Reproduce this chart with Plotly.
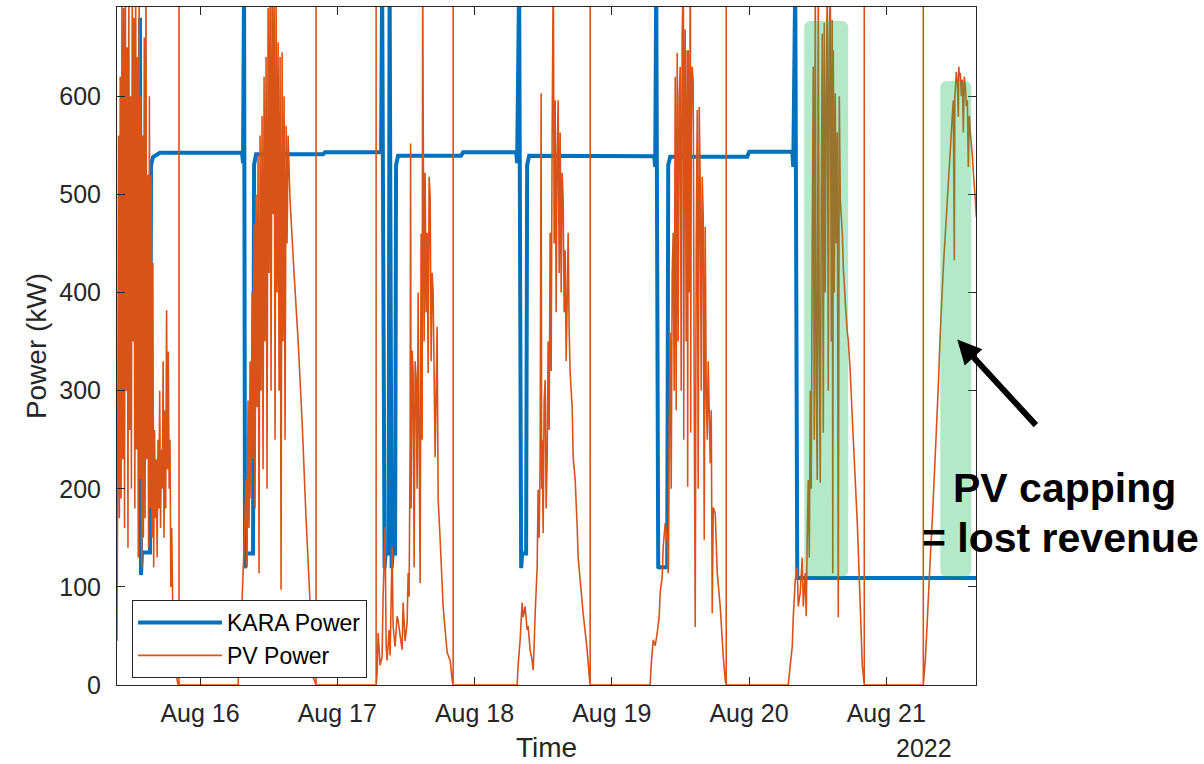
import pandas as pd
import plotly.graph_objects as go

BASE = pd.Timestamp("2022-08-15 00:00")

# ---------------- data: (hours since 2022-08-15 00:00, kW) ----------------
kara_power = [
    (13.50, 680), (13.68, 112), (13.85, 135), (15.25, 135), (15.43, 530), (15.78, 538), (17.00, 542.5),
    (31.35, 542.5), (31.52, 532), (31.70, 720), (31.87, 119), (32.05, 134), (33.27, 134), (33.45, 530), (33.80, 541),
    (45.52, 541), (45.87, 543),
    (55.66, 543), (55.84, 720), (56.27, 119), (56.45, 134), (56.97, 134), (57.15, 720), (57.50, 119), (57.67, 134),
    (58.11, 134), (58.28, 530), (58.63, 539.5),
    (69.65, 539.5), (70.00, 543),
    (79.28, 543), (79.45, 532), (79.80, 720), (80.15, 119), (80.32, 134), (81.02, 134), (81.20, 530), (81.55, 539.5),
    (103.42, 539), (103.59, 528), (103.77, 720), (104.12, 119), (104.29, 120), (105.69, 120), (105.87, 530), (106.22, 538.5),
    (119.68, 538.5), (120.03, 543.5),
    (127.55, 543.5), (127.73, 528), (128.08, 720), (128.43, 109), (159.68, 109),
]

pv_aug15 = [
    (9.48, 45), (9.60, 210), (9.75, 560), (9.90, 170), (10.05, 620), (10.20, 190), (10.35, 700), (10.50, 230),
    (10.65, 690), (10.80, 160), (10.95, 720), (11.10, 300), (11.25, 650), (11.40, 140), (11.55, 720), (11.70, 260),
    (11.85, 600), (12.00, 200), (12.15, 720), (12.30, 350), (12.45, 680), (12.60, 180), (12.75, 720), (12.90, 240),
    (13.05, 640), (13.20, 130), (13.35, 700), (13.50, 210), (13.65, 600), (13.80, 120), (13.95, 560), (14.10, 150),
    (14.25, 660), (14.40, 170), (14.55, 720), (14.70, 230), (14.85, 520), (15.00, 140), (15.15, 600), (15.30, 180),
    (15.45, 520), (15.60, 150), (15.75, 430), (15.90, 120), (16.05, 260), (16.20, 170), (16.35, 230), (16.50, 130),
    (16.65, 250), (16.80, 180), (16.95, 300), (17.10, 160), (17.25, 240), (17.40, 200), (17.55, 330), (17.70, 150),
    (17.85, 280), (18.00, 180), (18.15, 382), (18.30, 220), (18.45, 340), (18.60, 200), (18.75, 250), (18.90, 100),
    (19.05, 160), (19.20, 90), (19.40, 60), (19.60, 35), (19.80, 15), (20.00, 5), (20.20, 0),
    (20.33, 0), (20.33, 1000), (20.33, 0),
]

pv_aug16 = [
    (30.65, 0), (31.17, 60), (31.70, 140), (32.05, 210), (32.22, 120), (32.40, 290), (32.57, 160), (32.75, 330),
    (32.92, 190), (33.10, 400), (33.27, 230), (33.45, 470), (33.62, 180), (33.80, 500), (33.97, 283), (34.15, 540),
    (34.32, 114), (34.50, 560), (34.67, 300), (34.85, 580), (35.02, 220), (35.20, 620), (35.37, 350), (35.55, 640),
    (35.72, 200), (35.90, 690), (36.07, 420), (36.25, 720), (36.42, 300), (36.60, 720), (36.77, 480), (36.95, 720),
    (37.12, 250), (37.30, 700), (37.47, 400), (37.65, 655), (37.82, 300), (38.00, 640), (38.17, 97), (38.35, 645),
    (38.52, 350), (38.70, 600), (38.87, 250), (39.05, 570), (39.22, 450), (39.40, 560), (39.74, 494), (40.44, 420),
    (41.14, 352), (41.84, 270), (42.54, 170), (43.24, 84), (43.77, 8), (44.29, 0),
    (44.29, 1000), (44.29, 0),
]

pv_aug17 = [
    (54.79, 0), (54.79, 1000), (54.79, 0),
    (54.97, 12), (55.14, 53), (55.49, 20), (55.84, 29), (56.01, 90), (56.36, 161), (56.54, 40), (56.71, 25),
    (57.06, 56), (57.24, 30), (57.59, 141), (57.76, 60), (58.11, 39), (58.46, 70), (58.64, 66), (58.99, 50),
    (59.34, 36), (59.51, 84), (59.86, 45), (60.21, 63), (60.39, 114), (60.56, 90), (60.74, 250), (60.82, 552),
    (60.91, 180), (61.09, 341), (61.26, 318), (61.44, 120), (61.61, 330), (61.79, 311), (61.96, 200), (62.14, 400),
    (62.31, 250), (62.49, 104), (62.66, 460), (62.84, 250), (62.93, 720), (62.97, 680), (63.01, 596), (63.19, 350),
    (63.36, 522), (63.54, 380), (63.71, 461), (63.89, 318), (64.06, 518), (64.24, 497), (64.41, 330), (64.59, 420),
    (64.76, 400), (65.11, 232), (65.46, 365), (65.64, 189), (65.99, 148), (66.51, 80), (67.21, 33), (67.74, 25),
    (68.09, 5), (68.26, 0), (68.26, 1000), (68.26, 0),
]

pv_aug18 = [
    (79.45, 0), (79.62, 20), (79.97, 46), (80.32, 84), (80.50, 69), (80.85, 80), (81.20, 56), (81.37, 60),
    (81.72, 36), (82.07, 25), (82.25, 15), (82.42, 40), (82.60, 73), (82.95, 120), (83.12, 199), (83.30, 150),
    (83.47, 230), (83.65, 603), (83.74, 200), (83.82, 250), (84.00, 155), (84.17, 290), (84.35, 311), (84.52, 180),
    (84.70, 232), (84.87, 350), (85.05, 260), (85.22, 461), (85.40, 320), (85.57, 560), (85.75, 720), (85.80, 690),
    (85.92, 450), (86.10, 596), (86.27, 380), (86.45, 540), (86.62, 596), (86.80, 420), (86.97, 563), (87.15, 400),
    (87.32, 522), (87.50, 494), (87.67, 380), (87.85, 443), (88.02, 330), (88.20, 392), (88.37, 461), (88.55, 359),
    (88.72, 318), (89.07, 283), (89.25, 232), (89.60, 209), (89.95, 161), (90.12, 130), (90.47, 107), (90.99, 73),
    (91.69, 36), (92.04, 10), (92.22, 0), (92.22, 1000), (92.22, 0),
]

pv_aug19 = [
    (102.71, 0), (102.89, 20), (103.24, 46), (103.59, 40), (103.94, 53), (104.29, 70), (104.46, 94), (104.81, 110),
    (104.99, 141), (105.34, 165), (105.69, 148), (105.86, 114), (106.04, 260), (106.21, 359), (106.39, 200),
    (106.56, 420), (106.74, 461), (106.91, 300), (107.09, 620), (107.26, 280), (107.44, 644), (107.61, 350),
    (107.79, 600), (107.96, 630), (108.14, 300), (108.31, 664), (108.49, 720), (108.53, 690), (108.58, 250),
    (108.66, 500), (108.84, 668), (109.01, 350), (109.19, 647), (109.27, 202), (109.36, 647), (109.54, 400),
    (109.71, 720), (109.75, 700), (109.80, 257), (109.89, 560), (110.06, 630), (110.24, 614), (110.41, 300),
    (110.59, 59), (110.76, 450), (110.94, 586), (111.11, 200), (111.29, 589), (111.46, 512), (111.64, 300),
    (111.81, 518), (111.99, 477), (112.16, 148), (112.34, 467), (112.51, 300), (112.69, 250), (112.86, 330),
    (113.21, 226), (113.39, 280), (113.56, 73), (113.74, 181), (114.09, 175), (114.44, 114), (114.96, 80),
    (115.49, 29), (115.84, 5), (116.01, 0), (116.01, 1000), (116.01, 0),
]

pv_aug20 = [
    (126.85, 0), (127.20, 20), (127.55, 39), (127.73, 69), (128.08, 107), (128.43, 120), (128.60, 80), (128.95, 94),
    (129.30, 130), (129.48, 80), (129.83, 114), (130.00, 70), (130.18, 155), (130.35, 209), (130.53, 130),
    (130.70, 300), (130.88, 200), (131.05, 450), (131.23, 630), (131.40, 250), (131.58, 720), (131.75, 300),
    (131.93, 209), (132.10, 720), (132.28, 350), (132.45, 206), (132.63, 500), (132.80, 664), (132.98, 257),
    (133.15, 675), (133.33, 400), (133.50, 600), (133.68, 720), (133.85, 300), (134.03, 650), (134.20, 720),
    (134.38, 350), (134.55, 678), (134.64, 114), (134.73, 647), (134.90, 400), (135.08, 603), (135.25, 450),
    (135.43, 563), (135.60, 69), (135.78, 600), (135.95, 494), (136.30, 461), (136.48, 426), (136.83, 390),
    (137.18, 359), (137.35, 352), (137.70, 318), (138.23, 250), (138.93, 165), (139.45, 80), (139.80, 20),
    (140.15, 0), (140.15, 1000), (140.15, 0),
]

pv_aug21 = [
    (150.47, 0), (150.47, 1000), (150.47, 0),
    (150.82, 25), (151.17, 66), (151.69, 130), (152.04, 168), (152.57, 236), (153.09, 304), (153.44, 359),
    (153.97, 426), (154.67, 494), (155.19, 545), (155.54, 580), (155.72, 596), (155.89, 433), (155.98, 600),
    (156.07, 607), (156.24, 625), (156.42, 614), (156.59, 579), (156.68, 630), (156.77, 620), (156.94, 624),
    (157.12, 600), (157.29, 617), (157.47, 563), (157.64, 620), (157.82, 610), (157.99, 590), (158.17, 596),
    (158.34, 528), (158.52, 580), (158.69, 563), (159.04, 540), (159.22, 522), (159.57, 494), (159.74, 477),
]

x_tick_dates = ["2022-08-16", "2022-08-17", "2022-08-18", "2022-08-19", "2022-08-20", "2022-08-21"]
x_tick_labels = ["Aug 16", "Aug 17", "Aug 18", "Aug 19", "Aug 20", "Aug 21"]
y_tick_values = [0, 100, 200, 300, 400, 500, 600]

# ---------------- build ----------------
def split(series):
    t = [BASE + pd.Timedelta(hours=h) for h, _ in series]
    v = [kw for _, kw in series]
    return t, v

pv_all = pv_aug15 + pv_aug16 + pv_aug17 + pv_aug18 + pv_aug19 + pv_aug20 + pv_aug21
kara_t, kara_v = split(kara_power)
pv_t, pv_v = split(pv_all)

FONT = "Liberation Sans, Arial, Helvetica, sans-serif"
AXC = "#262626"

fig = go.Figure()
fig.add_trace(go.Scatter(x=kara_t, y=kara_v, mode="lines", name="KARA Power",
                         line=dict(color="#0072BD", width=4, simplify=False)))
fig.add_trace(go.Scatter(x=pv_t, y=pv_v, mode="lines", name="PV Power",
                         line=dict(color="#D95319", width=1.6, simplify=False)))

# plot-area geometry (pixels)
L, T, W, H = 117, 7, 858.7, 678


def X(px):
    return (px - L) / W


def Y(py):
    return (T + H - py) / H


def rounded_rect(x0, y0, x1, y1, r):
    return (f"M {X(x0 + r)},{Y(y0)} L {X(x1 - r)},{Y(y0)} Q {X(x1)},{Y(y0)} {X(x1)},{Y(y0 + r)} "
            f"L {X(x1)},{Y(y1 - r)} Q {X(x1)},{Y(y1)} {X(x1 - r)},{Y(y1)} "
            f"L {X(x0 + r)},{Y(y1)} Q {X(x0)},{Y(y1)} {X(x0)},{Y(y1 - r)} "
            f"L {X(x0)},{Y(y0 + r)} Q {X(x0)},{Y(y0)} {X(x0 + r)},{Y(y0)} Z")


for (x0, y0, x1, y1) in [(804, 21, 848, 577), (940, 81, 971, 577)]:
    fig.add_shape(type="path", xref="paper", yref="paper", path=rounded_rect(x0, y0, x1, y1, 7),
                  fillcolor="rgba(24,185,88,0.33)", line=dict(width=0), layer="above")

fig.add_annotation(xref="x", yref="y", x=BASE + pd.Timedelta(hours=156.41), y=352,
                   ax=80, ay=87, text="", showarrow=True, arrowhead=2, arrowsize=0.8,
                   arrowwidth=6, arrowcolor="black")
fig.add_annotation(xref="paper", yref="paper", x=X(1064), y=Y(488), text="<b>PV capping</b>",
                   showarrow=False, xanchor="center", yanchor="middle",
                   font=dict(family=FONT, size=41, color="black"))
fig.add_annotation(xref="paper", yref="paper", x=X(1060), y=Y(538), text="<b>= lost revenue</b>",
                   showarrow=False, xanchor="center", yanchor="middle",
                   font=dict(family=FONT, size=41, color="black"))
fig.add_annotation(xref="paper", yref="paper", x=X(924), y=Y(748), text="2022",
                   showarrow=False, xanchor="center", yanchor="middle",
                   font=dict(family=FONT, size=25, color=AXC))

fig.update_layout(
    width=1204, height=764,
    margin=dict(l=117, r=228, t=7, b=79),
    paper_bgcolor="white", plot_bgcolor="white",
    font=dict(family=FONT, color=AXC),
    showlegend=True,
    legend=dict(x=X(132), y=Y(600), xanchor="left", yanchor="top",
                bgcolor="white", bordercolor=AXC, borderwidth=1,
                font=dict(family=FONT, size=23, color="black"), itemwidth=84),
    xaxis=dict(type="date", range=["2022-08-15 09:29", "2022-08-21 15:41"],
               tickvals=x_tick_dates, ticktext=x_tick_labels,
               ticks="inside", ticklen=8, tickcolor=AXC, tickwidth=1,
               showline=True, linecolor=AXC, linewidth=1, mirror="ticks",
               showgrid=False, zeroline=False, automargin=False,
               tickfont=dict(family=FONT, size=25, color=AXC), ticklabelstandoff=6,
               title=dict(text="Time", font=dict(family=FONT, size=28, color=AXC), standoff=11)),
    yaxis=dict(range=[0, 691], tickvals=y_tick_values,
               ticks="inside", ticklen=8, tickcolor=AXC, tickwidth=1,
               showline=True, linecolor=AXC, linewidth=1, mirror="ticks",
               showgrid=False, zeroline=False, automargin=False,
               tickfont=dict(family=FONT, size=25, color=AXC), ticklabelstandoff=10,
               title=dict(text="Power (kW)", font=dict(family=FONT, size=28, color=AXC), standoff=4)),
)

fig.write_html("out.html")
